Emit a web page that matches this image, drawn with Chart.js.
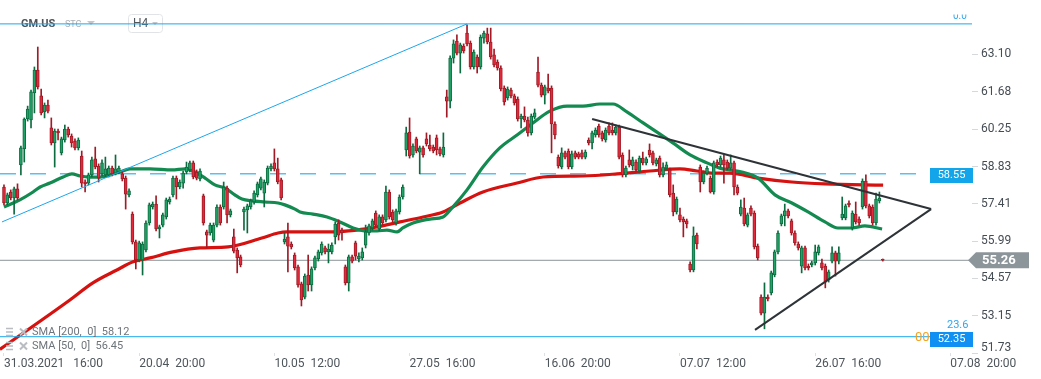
<!DOCTYPE html>
<html><head><meta charset="utf-8">
<script src="https://cdn.jsdelivr.net/npm/chart.js@4.4.1/dist/chart.umd.min.js"></script>
<style>html,body{margin:0;padding:0;background:#fff;overflow:hidden}canvas{display:block}</style>
</head><body>
<canvas id="c" width="1041" height="379"></canvas>
<script>
// ---- data (GM.US, H4) ----
const openP=[58.05,57.44,57.86,57.63,57.98,58.89,59.50,60.64,60.60,61.63,
62.50,61.52,60.91,61.17,60.30,59.73,60.18,59.35,59.84,60.26,
59.99,59.80,59.54,59.23,58.24,58.20,58.51,59.12,58.85,58.55,
58.51,58.51,58.77,58.58,58.62,58.55,58.39,57.75,57.02,55.96,
55.27,55.27,55.65,56.68,57.29,57.40,56.45,56.60,56.91,57.48,
57.75,58.39,58.05,58.20,58.62,58.70,58.97,58.62,58.36,57.71,
56.34,56.30,56.03,56.60,57.29,57.29,58.01,56.99,56.15,55.65,
55.39,57.10,57.18,57.29,57.48,57.75,58.01,57.82,58.20,58.74,
58.97,58.74,58.32,55.96,56.15,55.88,55.46,55.01,54.36,53.86,
54.70,54.32,54.97,55.31,55.54,55.73,55.58,55.58,56.15,56.68,
56.41,55.01,54.40,55.39,55.92,55.31,55.35,55.84,56.30,56.49,
57.06,56.45,56.91,56.80,57.86,57.10,56.68,57.10,57.67,59.46,
60.14,59.27,59.88,59.38,59.54,59.88,59.65,59.57,59.92,59.50,
59.27,61.48,61.32,62.96,63.61,63.15,63.42,63.91,63.53,62.62,
63.00,62.62,63.72,63.88,63.57,63.08,62.81,62.58,61.82,61.44,
61.74,61.52,61.40,60.64,60.75,60.60,60.11,60.71,62.43,61.93,
61.55,61.82,61.82,60.45,59.19,58.81,59.35,59.42,58.81,59.35,
59.31,59.35,59.19,59.84,59.73,60.03,60.37,60.11,59.84,60.37,
60.22,60.11,60.33,59.27,58.51,59.08,58.85,59.00,58.66,59.15,
58.97,59.46,59.35,58.93,59.15,58.51,58.77,58.70,57.82,57.10,
56.99,56.83,56.76,55.12,54.89,56.22,58.81,58.24,58.58,58.39,
57.86,59.00,58.89,59.08,59.00,58.77,58.97,58.05,57.02,57.25,
56.60,57.25,57.06,55.80,53.86,53.25,53.86,54.02,54.70,55.58,
56.64,56.95,57.14,56.76,56.30,55.88,55.04,55.73,55.04,55.08,
55.16,55.54,55.16,55.04,54.51,55.23,55.54,55.23,56.87,56.87,
57.44,56.49,57.02,56.83,57.29,58.28,57.33,57.29,56.68,57.52,
55.29];
const highP=[58.13,57.82,57.94,58.05,58.17,59.61,60.68,61.13,61.74,62.62,
63.38,61.78,61.25,61.36,60.68,60.26,60.26,59.95,60.41,60.33,
60.07,59.88,59.92,59.42,58.32,58.58,59.19,59.57,58.93,59.08,
59.19,58.85,58.85,59.27,58.85,58.62,58.47,57.98,57.10,56.03,
55.99,55.96,56.76,57.44,57.48,57.71,56.60,57.06,57.63,57.67,
58.47,58.47,58.32,58.66,59.00,59.04,59.04,58.70,58.74,57.78,
56.41,56.68,56.68,57.37,57.37,58.24,58.09,57.21,56.45,55.73,
55.46,57.29,57.40,57.59,57.90,58.24,58.43,58.32,58.85,58.93,
59.50,59.15,58.39,56.30,56.68,55.96,55.54,55.08,54.43,54.74,
55.46,55.01,55.42,55.65,55.96,55.80,55.88,55.92,56.72,56.80,
56.49,55.08,55.46,55.46,55.99,55.54,55.73,56.60,56.64,56.83,
57.14,56.99,56.99,58.09,57.94,57.18,57.21,57.75,58.13,60.33,
60.68,59.69,59.95,59.61,59.61,60.11,60.03,59.65,60.03,59.57,
60.11,61.74,63.04,63.65,63.84,63.53,63.50,64.22,63.61,63.27,
63.08,63.84,63.99,64.10,64.10,63.30,62.89,62.66,61.90,61.86,
61.82,61.59,61.48,60.83,61.10,60.71,60.83,61.02,63.00,62.01,
61.93,62.35,61.90,60.53,59.27,59.54,59.42,59.50,59.42,59.42,
59.38,59.46,59.46,59.92,60.18,60.30,60.45,60.18,60.30,60.49,
60.49,60.41,60.41,59.35,58.85,59.46,59.19,59.08,59.23,59.38,
59.19,59.69,59.42,59.15,59.23,58.97,59.00,58.77,58.13,57.67,
57.25,56.91,56.83,55.20,56.53,56.30,58.89,58.66,58.85,58.47,
59.04,59.08,59.23,59.27,59.08,59.27,59.04,58.13,57.56,57.63,
57.06,57.33,57.14,55.88,53.94,54.40,53.94,54.85,55.65,56.38,
57.02,57.40,57.21,56.83,56.38,55.96,55.80,55.80,55.12,55.23,
55.84,55.84,55.31,55.12,54.89,55.77,55.61,55.77,57.67,57.40,
57.52,57.14,57.48,56.91,58.36,58.51,57.40,57.37,57.82,57.86,
55.31];
const lowP=[57.37,57.37,57.56,57.02,57.56,58.51,59.00,60.56,60.30,60.87,
61.78,60.79,60.68,60.87,59.65,58.81,59.84,59.27,59.76,59.95,
59.57,59.46,59.46,58.05,57.86,58.13,58.43,58.74,58.24,58.47,
58.43,58.43,58.47,58.51,58.55,58.28,57.21,57.67,55.88,54.93,
55.20,54.70,55.58,56.60,57.21,56.38,56.11,56.53,56.83,57.40,
57.67,57.59,57.98,58.01,58.55,58.62,58.36,58.32,58.28,56.60,
55.73,56.22,55.96,56.53,56.60,57.21,56.68,56.91,55.54,54.78,
55.01,56.41,56.30,57.21,57.40,57.67,57.94,57.29,58.13,58.66,
58.66,58.17,57.56,55.88,54.82,55.69,54.89,54.24,53.52,53.79,
54.09,54.09,54.89,55.23,55.46,55.50,55.16,55.50,55.88,56.03,
56.03,54.32,54.09,55.16,55.27,55.20,55.27,55.73,56.22,56.41,
56.53,56.38,56.60,56.72,56.83,56.72,56.60,57.02,57.59,59.23,
59.15,59.19,59.35,58.55,59.19,59.61,59.42,59.35,59.27,59.23,
59.19,60.71,61.06,62.77,63.08,62.39,63.15,63.42,62.54,62.54,
62.39,62.54,63.53,63.50,62.92,62.62,62.50,61.71,61.17,61.36,
61.44,61.17,60.56,60.30,60.53,59.99,60.03,60.64,61.86,61.48,
61.21,61.63,59.35,59.88,58.77,58.74,59.12,58.74,58.74,59.12,
59.12,59.12,59.12,59.65,59.50,59.95,59.95,59.80,59.76,60.03,
60.03,60.03,59.12,58.43,58.43,58.81,58.70,58.62,58.58,58.89,
58.89,59.19,58.89,58.85,58.43,58.43,58.70,57.67,56.95,57.02,
56.72,56.15,56.49,54.82,54.82,55.69,57.86,58.17,58.51,57.82,
57.78,58.81,58.81,58.20,58.70,58.70,57.75,57.75,56.95,56.57,
56.53,56.95,55.69,55.27,53.18,52.65,53.71,53.94,54.63,55.50,
56.57,56.57,56.87,56.22,55.84,55.65,54.78,54.89,54.89,55.01,
55.08,55.46,54.89,54.21,54.43,55.16,54.66,55.12,56.80,56.80,
57.29,56.41,56.64,56.60,57.21,57.25,56.87,56.60,56.60,57.44,
55.23];
const closeP=[57.44,57.75,57.63,57.98,57.63,59.54,60.64,61.02,61.67,62.50,
61.86,60.87,61.17,60.94,59.73,60.18,60.11,59.88,60.26,60.03,
59.73,59.54,59.84,58.20,58.17,58.51,59.08,58.81,58.39,58.97,
58.74,58.77,58.55,58.74,58.77,58.36,57.78,57.90,55.96,55.27,
55.92,55.88,56.68,57.37,57.40,56.45,56.53,56.99,57.56,57.59,
58.39,58.05,58.24,58.58,58.81,58.97,58.43,58.39,58.66,56.68,
56.22,56.60,56.60,57.29,56.68,58.05,56.99,57.14,55.61,55.35,
55.08,57.21,57.33,57.52,57.82,58.17,58.36,58.24,58.77,58.85,
58.74,58.24,57.63,56.07,55.80,55.77,54.97,54.32,53.75,54.66,
54.32,54.93,55.35,55.58,55.88,55.58,55.69,55.84,56.64,56.22,
56.30,54.40,55.39,55.23,55.42,55.42,55.58,56.34,56.57,56.76,
56.60,56.91,56.68,57.86,56.91,56.80,57.14,57.67,58.05,60.11,
59.23,59.61,59.42,59.54,59.27,59.69,59.50,59.42,59.46,59.31,
59.57,61.32,62.96,63.50,63.15,63.46,63.23,63.50,62.62,63.19,
62.62,63.76,63.91,63.57,63.00,62.70,62.58,61.78,61.29,61.78,
61.52,61.25,60.64,60.75,60.60,60.11,60.75,60.87,61.93,61.55,
61.86,61.71,60.45,60.03,58.85,59.35,59.19,58.81,59.31,59.19,
59.19,59.19,59.38,59.73,60.11,60.22,60.03,59.88,60.22,60.11,
60.11,60.33,59.19,58.51,58.77,58.89,59.08,58.70,59.15,58.97,
59.12,59.27,58.97,59.08,58.51,58.81,58.89,57.75,57.10,57.59,
56.80,56.72,56.64,54.89,56.19,55.88,58.24,58.58,58.77,57.86,
58.97,58.89,59.15,58.89,58.77,58.97,58.05,57.82,57.29,56.64,
56.99,57.02,55.77,55.35,53.25,53.86,53.79,54.78,55.58,56.30,
56.95,57.14,56.95,56.30,55.92,55.73,55.73,54.97,54.97,55.16,
55.58,55.77,54.97,54.43,54.82,55.54,55.23,55.54,57.02,57.33,
57.37,57.06,56.72,56.68,58.28,57.33,56.95,56.68,57.59,57.63,
55.26];

const xTickIdx=[0,40,80,120,160,200,240,280];
const xTickLabels=['31.03.2021   16:00','20.04  20:00','10.05  12:00','27.05  16:00','16.06  20:00','07.07  12:00','26.07  16:00','07.08  20:00'];
const yTickVals=[63.10,61.68,60.25,58.83,57.41,55.99,54.57,53.15,51.73];

const sma50Idx=[0,4.7,8.6,10.7,13.6,17.5,20.1,22.5,25.4,28.4,31.4,34.3,37.3,43.2,49.7,53.6,56.5,59.5,62.4,65.4,68.3,70.4,73.4,77.2,81.1,83.1,86.1,87.6,91.4,95.6,99.4,103.3,106.8,110.4,113.3,116.3,118.0,121.0,126.0,129.9,132.8,137.0,141.7,146.7,151.8,156.5,161.5,166.6,171.3,176.3,180.2,184.3,189.1,193.2,197.9,203.0,208.0,211.8,214.8,218.3,223.1,228.1,233.1,237.9,242.9,246.7,250.9,254.7,259.8];
const sma50Val=[57.29,57.56,57.86,58.05,58.20,58.43,58.55,58.47,58.43,58.43,58.51,58.62,58.74,58.74,58.70,58.74,58.62,58.39,58.13,58.01,57.75,57.59,57.52,57.48,57.44,57.37,57.21,57.10,57.02,56.91,56.72,56.49,56.38,56.38,56.41,56.34,56.49,56.68,56.83,56.91,57.29,57.94,58.81,59.54,60.03,60.49,60.94,61.13,61.13,61.21,61.21,60.91,60.49,60.14,59.73,59.27,58.97,58.77,58.70,58.62,58.39,57.75,57.44,57.10,56.72,56.49,56.49,56.57,56.45];
const sma200Idx=[-1.2,19.5,26.3,33.4,38.2,43.2,50.0,58.0,66.3,76.3,81.1,83.7,95.6,104.4,110.4,117.2,124.0,129.9,134.9,141.7,151.8,159.5,171.3,181.4,191.1,200.0,205.0,209.8,214.8,223.1,233.1,242.9,260.1];
const sma200Val=[51.87,53.75,54.40,54.89,55.20,55.35,55.58,55.73,55.77,56.11,56.30,56.34,56.34,56.41,56.53,56.72,56.91,57.10,57.44,57.86,58.20,58.43,58.47,58.55,58.66,58.74,58.66,58.58,58.58,58.39,58.24,58.17,58.12];

const trendUpIdx=[-0.6,137.0], trendUpVal=[56.72,64.26];
const triUpperIdx=[174.0,274.3], triUpperVal=[60.64,57.21];
const triLowerIdx=[222.2,274.3], triLowerVal=[52.61,57.21];
const levelTop=64.26, levelBottom=52.35, levelDashed=58.55, lastPrice=55.26;
const dashedEndIdx=270.1;
const fibLabels=['0.0','23.6'];
const smaLegend=['SMA [200,  0]  58.12','SMA [50,  0]  56.45'];
const symbolName='GM.US', symbolType='STC', interval='H4', countdown='00';

// ---- chart ----
const X_MIN=-1.18, X_MAX=286.4;
const idx=openP.map((_,i)=>i);
const isUp=i=>closeP[i]>=openP[i];
const G_FILL='#1fa366', G_LINE='#0d6b40', R_FILL='#e5293b', R_LINE='#a01b26';
const pts=(xs,ys)=>xs.map((x,i)=>({x:x,y:ys[i]}));
const lineDs=(data,color,width,order,extra)=>Object.assign({type:'line',data:data,borderColor:color,borderWidth:width,pointRadius:0,fill:false,order:order,tension:0},extra||{});

const overlay={
  id:'overlay',
  beforeDraw(chart){
    const items=chart.scales.y.getLabelItems();
    items.forEach(it=>{
      if(it.label==='51.73'&&it.options&&Array.isArray(it.options.translation)&&!it._moved){it.options.translation[1]-=5;it._moved=true;}
    });
  },
  beforeDatasetsDraw(chart){
    const c=chart.ctx;c.save();
    c.textBaseline='middle';c.textAlign='left';
    c.font='bold 11px Roboto';c.fillStyle='#4d545a';c.fillText(symbolName,21,24);
    c.font='9px Roboto';c.fillStyle='#aab0b5';c.fillText(symbolType,65,25);
    c.fillStyle='#c3c7cb';c.beginPath();c.moveTo(87,21);c.lineTo(95,21);c.lineTo(91,25);c.closePath();c.fill();
    c.strokeStyle='#e1e4e7';c.lineWidth=1;c.beginPath();
    if(c.roundRect){c.roundRect(128.5,14.5,34,18,3);}else{c.rect(128.5,14.5,34,18);}
    c.stroke();
    c.font='12px Roboto';c.fillStyle='#50575d';c.fillText(interval,133,24);
    c.fillStyle='#c3c7cb';c.beginPath();c.moveTo(152,22);c.lineTo(158,22);c.lineTo(155,25);c.closePath();c.fill();
    c.restore();
  },
  afterDraw(chart){
    const c=chart.ctx, ys=chart.scales.y;
    c.save();
    c.textBaseline='middle';
    // dashed level label
    const yD=ys.getPixelForValue(levelDashed);
    c.fillStyle='#12a5ea';c.fillRect(930,Math.round(yD)-6,43,15);
    c.fillStyle='#fff';c.font='11px Roboto';c.textAlign='center';c.fillText(levelDashed.toFixed(2),951.5,Math.round(yD)+1.5);
    // bottom level
    const yB=ys.getPixelForValue(levelBottom);
    c.textAlign='left';c.font='13px Roboto';c.fillStyle='#f5a11c';c.fillText(countdown,915,yB+1);
    c.fillStyle='#0f90f2';c.fillRect(930,Math.round(yB)-5,43,15);
    c.fillStyle='#fff';c.font='11px Roboto';c.textAlign='center';c.fillText(levelBottom.toFixed(2),951.5,Math.round(yB)+2.5);
    c.fillStyle='#2ea6f0';c.font='11px Roboto';c.textAlign='left';c.fillText(fibLabels[1],947,yB-11);
    // top fib label, mostly hidden under the header band
    c.save();c.beginPath();c.rect(940,14.5,40,5);c.clip();
    c.fillStyle='#2ea6f0';c.font='10px Roboto';c.textBaseline='alphabetic';c.fillText(fibLabels[0],953,19);c.restore();
    // last price arrow
    const yL=ys.getPixelForValue(lastPrice);
    c.fillStyle='#8c9599';c.beginPath();c.moveTo(968,yL);c.lineTo(976,yL-8);c.lineTo(1029,yL-8);c.lineTo(1029,yL+8);c.lineTo(976,yL+8);c.closePath();c.fill();
    c.fillStyle='#fff';c.font='bold 13px Roboto';c.textAlign='left';c.fillText(lastPrice.toFixed(2),982,yL+0.5);
    // SMA legend
    const ly=[332,346];
    ly.forEach((y,k)=>{
      c.strokeStyle='#b9bdc1';c.lineWidth=1.5;
      c.beginPath();c.moveTo(6,y-3.5);c.lineTo(13,y-3.5);c.moveTo(6,y);c.lineTo(13,y);c.moveTo(6,y+3.5);c.lineTo(13,y+3.5);c.stroke();
      c.lineWidth=2;c.beginPath();c.moveTo(20,y-3.5);c.lineTo(27,y+3.5);c.moveTo(27,y-3.5);c.lineTo(20,y+3.5);c.stroke();
      c.fillStyle='#6d747a';c.font='11px Roboto';c.textAlign='left';c.fillText(smaLegend[k],32,y+0.5);
    });
    c.restore();
  }
};

new Chart(document.getElementById('c'),{
  type:'bar',
  data:{datasets:[
    lineDs(pts(trendUpIdx,trendUpVal),'#1ca7ec',1,0),
    lineDs([{x:X_MIN,y:levelTop},{x:X_MAX,y:levelTop}],'#1ca7ec',1,0),
    lineDs([{x:X_MIN,y:levelBottom},{x:X_MAX,y:levelBottom}],'#1ca7ec',1,0),
    lineDs(pts(triUpperIdx,triUpperVal),'#2e3338',2,0),
    lineDs(pts(triLowerIdx,triLowerVal),'#2e3338',2,0),
    {type:'bar',data:idx.map(i=>({x:i,y:[openP[i],closeP[i]]})),
      backgroundColor:idx.map(i=>isUp(i)?G_FILL:R_FILL),borderColor:idx.map(i=>isUp(i)?G_LINE:R_LINE),
      borderWidth:1,borderSkipped:false,barThickness:3,grouped:false,minBarLength:1,order:1},
    {type:'bar',data:idx.map(i=>({x:i,y:[lowP[i],highP[i]]})),
      backgroundColor:idx.map(i=>isUp(i)?G_LINE:R_LINE),borderWidth:0,barThickness:1,grouped:false,order:2},
    lineDs(pts(sma50Idx,sma50Val),'#138a50',3.2,3,{cubicInterpolationMode:'monotone'}),
    lineDs(pts(sma200Idx,sma200Val),'#d5120f',3.2,3,{cubicInterpolationMode:'monotone'}),
    lineDs([{x:X_MIN,y:levelDashed},{x:dashedEndIdx,y:levelDashed}],'#5dbff0',1.5,5,{borderDash:[16,14]}),
    lineDs([{x:X_MIN,y:lastPrice},{x:X_MAX,y:lastPrice}],'#8c9599',1,5)
  ]},
  options:{
    responsive:false,animation:false,devicePixelRatio:1,events:[],
    layout:{padding:0,autoPadding:false},
    plugins:{legend:{display:false},tooltip:{enabled:false}},
    scales:{
      x:{type:'linear',min:X_MIN,max:X_MAX,offset:false,
        grid:{display:true,drawOnChartArea:false,drawTicks:true,tickLength:3,color:'#dde1e4',offset:false},
        border:{display:false},
        afterBuildTicks:s=>{s.ticks=xTickIdx.map(v=>({value:v}));},
        ticks:{autoSkip:false,maxRotation:0,minRotation:0,align:'start',padding:1,color:'#4e555b',font:{family:'Roboto',size:12},
          callback:(v,i)=>xTickLabels[i]},
        afterFit:s=>{s.height=26;s.paddingLeft=0;s.paddingRight=0;}
      },
      y:{type:'linear',position:'right',min:51.73,max:65.17,
        grid:{drawOnChartArea:false,drawTicks:true,tickLength:6,color:'#d5d9dc'},
        border:{display:false},
        afterBuildTicks:s=>{s.ticks=yTickVals.map(v=>({value:v}));},
        ticks:{padding:3,color:'#454c53',font:{family:'Roboto',size:12},callback:v=>Number(v).toFixed(2)},
        afterFit:s=>{s.width=69;s.paddingTop=0;s.paddingBottom=0;}
      }
    }
  },
  plugins:[overlay]
});
</script>
</body></html>
